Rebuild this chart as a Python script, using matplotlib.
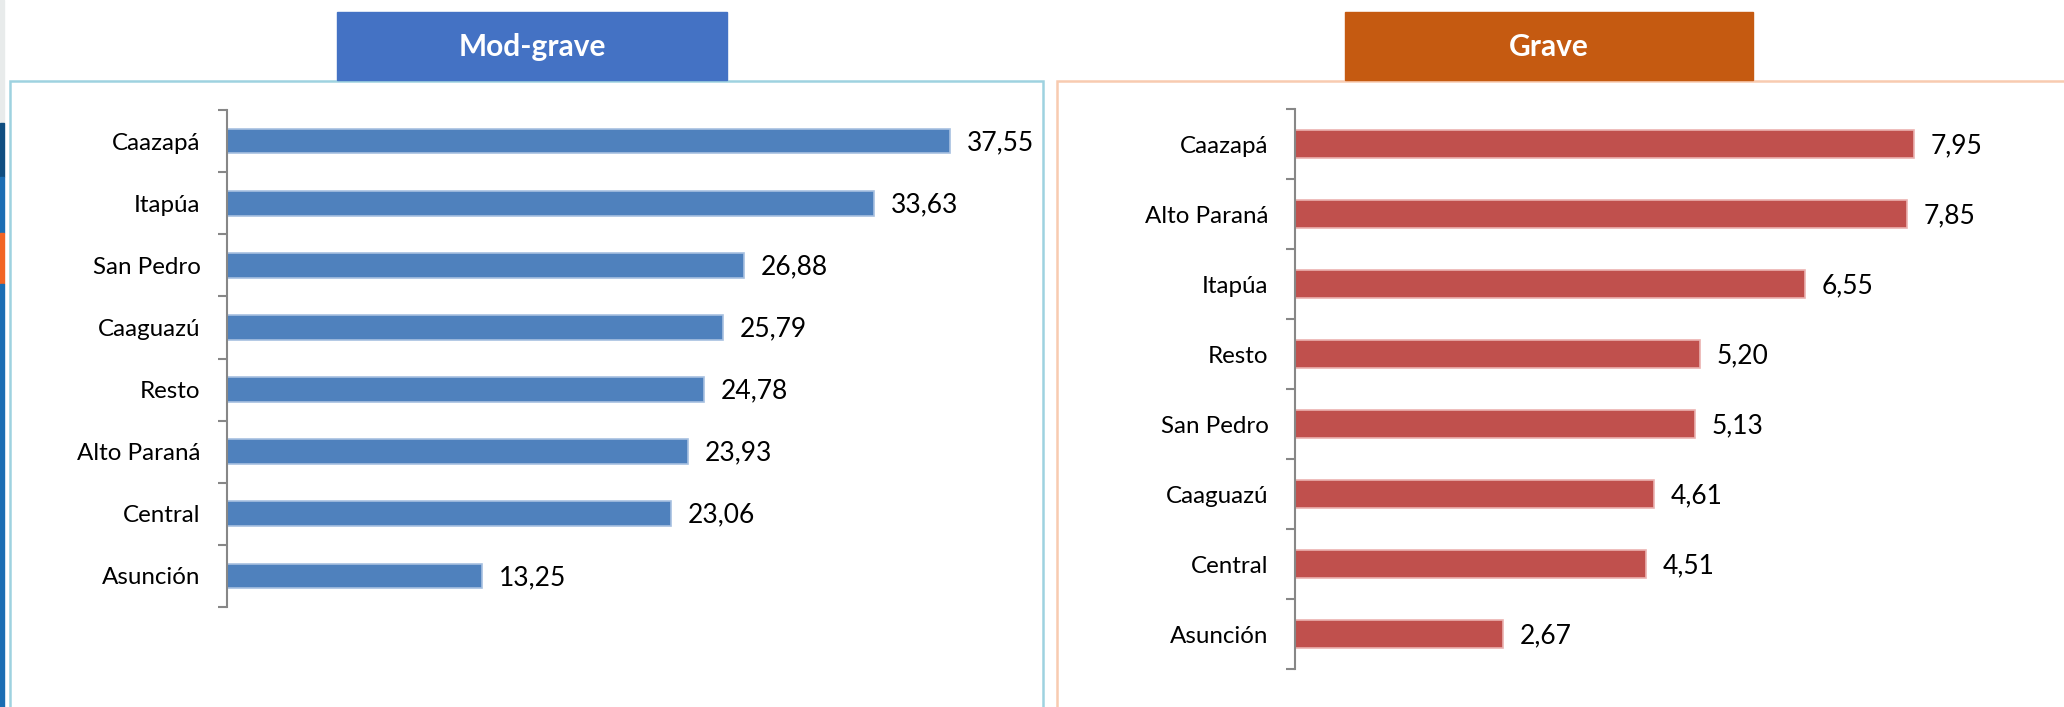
import matplotlib
matplotlib.use("Agg")
import matplotlib.pyplot as plt
from matplotlib.patches import Rectangle
from matplotlib.ticker import FixedLocator

# ---- data ----
mod_categories = ["Caazapá", "Itapúa", "San Pedro", "Caaguazú", "Resto",
                  "Alto Paraná", "Central", "Asunción"]
mod_values = [37.55, 33.63, 26.88, 25.79, 24.78, 23.93, 23.06, 13.25]

grave_categories = ["Caazapá", "Alto Paraná", "Itapúa", "Resto", "San Pedro",
                    "Caaguazú", "Central", "Asunción"]
grave_values = [7.95, 7.85, 6.55, 5.20, 5.13, 4.61, 4.51, 2.67]

titles = ["Mod-grave", "Grave"]

plt.rcParams['font.family'] = ['Lato', 'DejaVu Sans']

W, H = 2064, 707
fig = plt.figure(figsize=(W / 100, H / 100), dpi=100)
fig.patch.set_facecolor("white")


def px_rect(x0, y0, x1, y1):
    """pixel box (top-left origin) -> figure fraction [l, b, w, h]"""
    return [x0 / W, 1 - y1 / H, (x1 - x0) / W, (y1 - y0) / H]


# left slide strip decoration
strip = [(0, 123, "#E8EBEB"), (123, 177, "#0E4D80"), (177, 233, "#1B6DB3"),
         (233, 284, "#F26424"), (284, 707, "#1B6DB3")]
for y0, y1, c in strip:
    fig.patches.append(Rectangle((0, 1 - y1 / H), 4 / W, (y1 - y0) / H,
                                 transform=fig.transFigure, color=c, zorder=0))

# frames
fig.patches.append(Rectangle((10 / W, -0.05), (1043 - 10) / W, 1.05 - 81 / H,
                             transform=fig.transFigure, fill=False,
                             edgecolor="#9ED2E0", linewidth=1.8, zorder=1))
fig.patches.append(Rectangle((1057 / W, -0.05), 0.5, 1.05 - 81 / H,
                             transform=fig.transFigure, fill=False,
                             edgecolor="#F8CBB0", linewidth=1.8, zorder=1))

# title boxes
boxes = [(337, 727, "#4472C4"), (1345, 1753, "#C55A11")]
for (x0, x1, c), t in zip(boxes, titles):
    fig.patches.append(Rectangle((x0 / W, 1 - 80 / H), (x1 - x0) / W, (80 - 12) / H,
                                 transform=fig.transFigure, color=c, zorder=2))
    fig.text((x0 + x1) / 2 / W, 1 - 47 / H, t, color="white", fontsize=21.5,
             fontweight="bold", ha="center", va="center", zorder=3)


def draw_panel(rect, cats, vals, xmax, color, edge):
    ax = fig.add_axes(rect)
    n = len(cats)
    ypos = list(range(n))
    ax.barh(ypos, vals, height=0.4, color=color, edgecolor=edge, linewidth=1.2)
    ax.set_xlim(0, xmax)
    ax.set_ylim(n - 0.5, -0.5)
    for y, v in zip(ypos, vals):
        ax.annotate(f"{v:.2f}".replace(".", ","), (v, y), xytext=(12, -1),
                    textcoords="offset points", ha="left", va="center",
                    fontsize=19, color="black")
    for s in ["top", "right", "bottom"]:
        ax.spines[s].set_visible(False)
    ax.spines["left"].set_color("#878787")
    ax.spines["left"].set_linewidth(1.5)
    ax.set_xticks([])
    ax.set_yticks(ypos)
    ax.set_yticklabels(cats, fontsize=17.4)
    ax.tick_params(axis="y", which="major", length=0, pad=19)
    ax.yaxis.set_minor_locator(FixedLocator([i - 0.5 for i in range(n + 1)]))
    ax.tick_params(axis="y", which="minor", length=6.5, width=1.5,
                   color="#878787", direction="out")
    ax.patch.set_alpha(0)
    return ax


draw_panel(px_rect(227, 110, 1000, 607), mod_categories, mod_values,
           773 / 19.25, "#4F81BD", "#A7C0E0")
draw_panel(px_rect(1295, 109.3, 2000, 669.3), grave_categories, grave_values,
           705 / 77.9, "#C0504D", "#EBB2B0")

fig.savefig("out.png", dpi=100, facecolor="white")
